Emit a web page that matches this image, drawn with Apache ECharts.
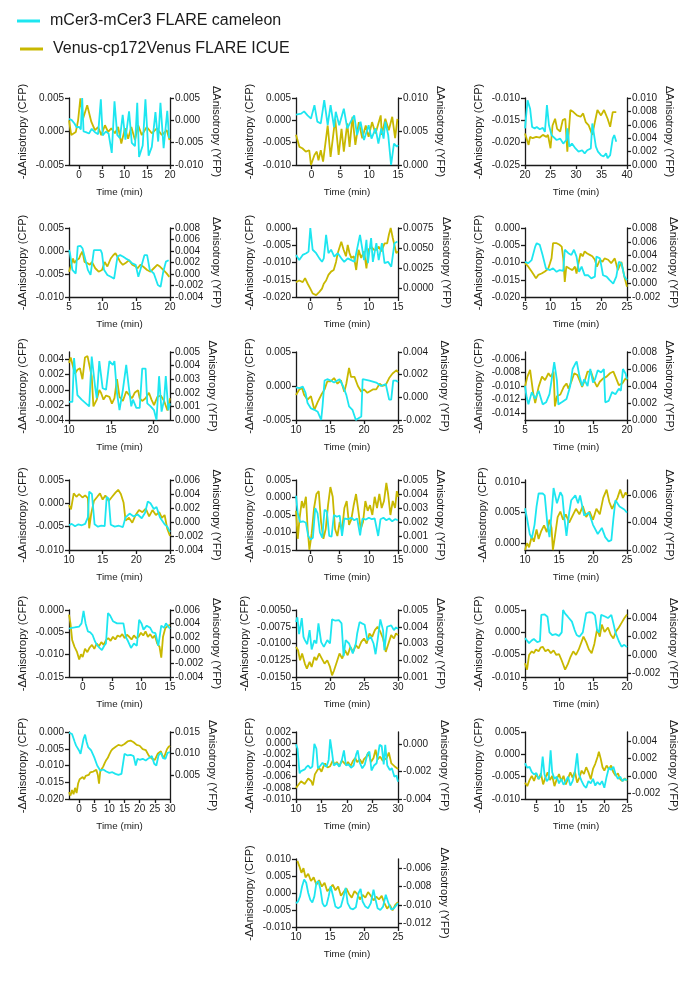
<!DOCTYPE html>
<html><head><meta charset="utf-8">
<script src="https://cdn.jsdelivr.net/npm/echarts@6/dist/echarts.min.js"></script>
<style>html,body{margin:0;padding:0;background:#fff}#c{width:700px;height:1001px}</style>
</head><body><div id="c"></div>
<script>
// ================= DATA (time in min, anisotropy values) =================
const NAME_C = 'mCer3-mCer3 FLARE cameleon';
const NAME_Y = 'Venus-cp172Venus FLARE ICUE';

// Panel 1
const P1_XT=[0,5,10,15,20], P1_LT=[-0.005,0,0.005], P1_RT=[-0.010,-0.005,0,0.005];
const P1_CYAN=[[-2.2,0.0019],[-1.6,0.0017],[-1.0,0.0012],[-0.5,0.0006],[0.0,0.0007],[0.4,0.0003],[0.7,0.0050],[1.0,0.0000],[1.5,-0.0001],[2.2,-0.0003],[2.8,0.0004],[3.5,-0.0001],[4.2,-0.0004],[4.8,0.0048],[5.2,-0.0006],[5.9,0.0000],[6.5,-0.0003],[7.2,-0.0032],[7.8,0.0045],[8.4,-0.0005],[9.0,-0.0010],[9.6,0.0025],[10.2,-0.0012],[11.0,0.0030],[11.6,-0.0017],[12.3,-0.0022],[12.8,0.0043],[13.2,-0.0038],[14.0,-0.0021],[14.6,0.0048],[15.3,-0.0036],[16.0,-0.0023],[16.8,0.0029],[17.4,-0.0015],[17.9,0.0043],[18.6,-0.0025],[19.4,0.0031],[19.8,-0.0010]];
const P1_YELLOW=[[-2.2,0.0000],[-1.7,-0.0033],[-1.3,-0.0037],[-0.7,-0.0026],[-0.2,0.0000],[0.3,0.0049],[0.9,0.0004],[1.8,0.0034],[2.2,0.0030],[2.7,-0.0003],[3.5,-0.0022],[4.2,-0.0015],[4.9,-0.0033],[5.7,-0.0011],[6.4,-0.0026],[7.1,-0.0018],[7.9,-0.0029],[8.6,-0.0015],[9.3,-0.0052],[10.1,-0.0018],[10.8,-0.0041],[11.5,-0.0015],[12.3,-0.0044],[13.0,-0.0011],[13.8,-0.0033],[14.9,-0.0015],[16.0,-0.0029],[17.1,-0.0018],[18.2,-0.0033],[19.3,-0.0022],[19.9,-0.0044]];

// Panel 2
const P2_XT=[0,5,10,15], P2_LT=[-0.010,-0.005,0,0.005], P2_RT=[0,0.005,0.010];
const P2_CYAN=[[-2.7,0.0013],[-1.8,0.0015],[-1.3,0.0020],[-0.7,0.0011],[-0.1,0.0004],[0.2,0.0008],[0.5,0.0034],[1.0,-0.0003],[1.6,-0.0007],[2.2,0.0045],[2.8,-0.0011],[3.3,0.0034],[3.9,-0.0015],[4.2,0.0019],[4.8,-0.0011],[5.6,0.0026],[6.2,-0.0018],[6.8,-0.0003],[7.4,0.0011],[7.9,-0.0033],[8.5,-0.0003],[9.1,-0.0044],[9.9,-0.0011],[10.4,-0.0041],[11.1,-0.0018],[11.6,-0.0052],[12.1,-0.0018],[12.5,-0.0041],[12.8,-0.0003],[13.3,-0.0033],[13.8,-0.0100],[14.3,-0.0052],[14.8,-0.0059],[15.0,-0.0055]];
const P2_YELLOW=[[-2.7,0.0045],[-2.1,0.0027],[-1.6,0.0025],[-1.0,0.0020],[-0.4,0.0022],[-0.1,0.0000],[0.5,0.0015],[0.9,0.0020],[1.2,0.0007],[1.6,0.0022],[2.0,0.0005],[2.8,0.0059],[3.3,0.0012],[4.1,0.0069],[4.7,0.0015],[5.2,0.0054],[5.6,0.0020],[6.2,0.0062],[6.6,0.0027],[7.1,0.0072],[7.6,0.0030],[8.2,0.0064],[8.8,0.0040],[9.4,0.0059],[9.9,0.0042],[10.5,0.0064],[11.1,0.0047],[12.0,0.0074],[12.2,0.0045],[12.8,0.0069],[13.4,0.0052],[14.0,0.0072],[14.5,0.0040],[14.9,0.0069]];

// Panel 3
const P3_XT=[20,25,30,35,40], P3_LT=[-0.025,-0.020,-0.015,-0.010], P3_RT=[0,0.002,0.004,0.006,0.008,0.010];
const P3_CYAN=[[20.0,-0.0168],[20.2,-0.0165],[20.5,-0.0105],[20.7,-0.0101],[21.0,-0.0124],[21.4,-0.0165],[21.9,-0.0168],[22.3,-0.0165],[22.9,-0.0170],[23.5,-0.0167],[23.9,-0.0176],[24.3,-0.0116],[24.7,-0.0161],[25.2,-0.0183],[25.5,-0.0187],[26.2,-0.0194],[26.9,-0.0191],[27.5,-0.0202],[28.1,-0.0194],[28.3,-0.0168],[28.7,-0.0209],[29.2,-0.0202],[29.9,-0.0213],[30.5,-0.0220],[31.2,-0.0217],[31.7,-0.0224],[32.2,-0.0217],[32.9,-0.0213],[33.2,-0.0157],[33.5,-0.0161],[33.9,-0.0209],[34.3,-0.0220],[34.9,-0.0228],[35.4,-0.0231],[35.9,-0.0224],[36.2,-0.0235],[36.7,-0.0228],[37.2,-0.0191],[37.5,-0.0183],[37.9,-0.0198]];
const P3_YELLOW=[[20.0,0.0047],[20.3,0.0045],[20.7,0.0030],[21.0,0.0042],[21.5,0.0040],[22.2,0.0042],[22.9,0.0041],[23.5,0.0045],[24.2,0.0042],[24.5,0.0045],[25.0,0.0025],[25.4,0.0059],[25.9,0.0069],[26.3,0.0054],[26.9,0.0050],[27.4,0.0067],[27.9,0.0069],[28.3,0.0020],[28.9,0.0082],[29.5,0.0079],[30.2,0.0074],[30.9,0.0072],[31.4,0.0077],[31.9,0.0064],[32.5,0.0059],[33.2,0.0045],[33.7,0.0064],[34.2,0.0082],[34.9,0.0074],[35.5,0.0082],[36.2,0.0069],[36.7,0.0057],[37.2,0.0079],[37.9,0.0079]];

// Panel 4
const P4_XT=[5,10,15,20], P4_LT=[-0.010,-0.005,0,0.005], P4_RT=[-0.004,-0.002,0,0.002,0.004,0.006,0.008];
const P4_CYAN=[[5.0,0.0002],[5.15,-0.0005],[5.5,-0.0041],[6.0,-0.0049],[6.1,-0.0045],[6.3,0.0010],[6.7,0.0011],[7.0,0.0006],[7.5,-0.0023],[7.8,-0.0041],[8.2,-0.0052],[8.4,-0.0055],[8.7,0.0002],[9.2,0.0002],[9.4,-0.0001],[9.7,0.0002],[9.9,-0.0005],[10.2,-0.0041],[10.7,-0.0052],[11.2,-0.0056],[11.7,-0.0060],[11.9,-0.0063],[12.2,-0.0012],[12.6,-0.0009],[13.0,-0.0012],[13.4,-0.0016],[13.9,-0.0020],[14.4,-0.0027],[14.9,-0.0030],[15.3,-0.0056],[15.6,-0.0041],[15.8,-0.0045],[16.2,-0.0009],[16.6,-0.0009],[17.0,-0.0041],[17.3,-0.0045],[17.6,-0.0049],[17.8,-0.0052],[18.2,-0.0074],[18.6,-0.0078],[19.0,-0.0045],[19.4,-0.0023],[19.8,-0.0020]];
const P4_YELLOW=[[5.0,0.0004],[5.25,0.0013],[5.6,0.0027],[5.8,0.0019],[6.1,0.0024],[6.5,0.0027],[6.7,0.0033],[7.0,0.0039],[7.3,0.0021],[7.7,0.0019],[8.1,0.0016],[8.4,0.0021],[8.9,0.0010],[9.4,0.0004],[9.9,0.0007],[10.3,0.0021],[10.7,0.0013],[11.2,0.0027],[11.6,0.0033],[11.9,0.0036],[12.2,0.0030],[12.6,0.0021],[13.0,0.0016],[13.4,0.0019],[13.9,0.0024],[14.4,0.0016],[14.9,0.0013],[15.2,0.0010],[15.6,0.0016],[16.0,0.0013],[16.6,0.0007],[17.1,0.0004],[17.6,0.0010],[18.1,0.0016],[18.5,0.0013],[19.0,0.0007],[19.5,0.0001],[19.9,-0.0005]];

// Panel 5
const P5_XT=[0,5,10,15], P5_LT=[-0.020,-0.015,-0.010,-0.005,0], P5_RT=[0,0.0025,0.005,0.0075];
const P5_CYAN=[[-2.45,-0.0078],[-1.9,-0.0093],[-1.3,-0.0078],[-0.7,-0.0073],[-0.3,-0.0068],[0.0,0.0000],[0.4,-0.0063],[1.0,-0.0073],[1.55,-0.0088],[2.0,-0.0098],[2.3,-0.0088],[2.7,-0.0020],[3.1,-0.0073],[3.55,-0.0063],[4.1,-0.0083],[4.7,-0.0073],[5.3,-0.0088],[5.8,-0.0098],[6.4,-0.0088],[7.0,-0.0093],[7.55,-0.0098],[8.5,-0.0020],[8.7,-0.0024],[9.2,-0.0093],[9.6,-0.0034],[9.85,-0.0102],[10.4,-0.0029],[10.7,-0.0098],[11.3,-0.0044],[11.7,-0.0093],[12.25,-0.0044],[12.7,-0.0102],[13.3,-0.0098],[13.85,-0.0112],[14.1,-0.0117],[14.4,-0.0044],[14.9,-0.0039]];
const P5_YELLOW=[[-2.45,0.0008],[-1.9,0.0010],[-1.3,0.0008],[-0.9,0.0013],[-0.45,0.0006],[0.0,0.0000],[0.4,-0.0006],[1.0,-0.0008],[1.55,-0.0004],[2.0,0.0000],[2.3,0.0006],[2.7,0.0010],[3.1,0.0017],[3.55,0.0021],[4.0,0.0023],[4.4,0.0033],[4.7,0.0044],[5.3,0.0058],[5.7,0.0048],[6.1,0.0040],[6.4,0.0054],[6.7,0.0044],[7.0,0.0038],[7.45,0.0040],[7.85,0.0023],[8.25,0.0048],[8.7,0.0038],[9.2,0.0046],[9.6,0.0025],[9.95,0.0048],[10.4,0.0052],[10.9,0.0048],[11.3,0.0048],[11.7,0.0052],[12.15,0.0046],[12.7,0.0056],[13.15,0.0056],[13.45,0.0067],[13.75,0.0075],[14.1,0.0063],[14.7,0.0044],[15.0,0.0046]];

// Panel 6
const P6_XT=[5,10,15,20,25], P6_LT=[-0.020,-0.015,-0.010,-0.005,0], P6_RT=[-0.002,0,0.002,0.004,0.006,0.008];
const P6_CYAN=[[5.0,-0.0098],[5.65,-0.0102],[6.3,-0.0093],[7.0,-0.0054],[7.3,-0.0044],[7.9,-0.0049],[8.45,-0.0078],[9.1,-0.0117],[9.9,-0.0122],[10.5,-0.0117],[11.2,-0.0127],[11.8,-0.0122],[12.5,-0.0124],[12.8,-0.0063],[13.5,-0.0073],[14.1,-0.0078],[14.6,-0.0063],[15.1,-0.0083],[15.6,-0.0127],[16.1,-0.0112],[16.7,-0.0137],[17.4,-0.0137],[18.0,-0.0146],[18.7,-0.0141],[19.0,-0.0083],[19.7,-0.0088],[20.3,-0.0137],[21.0,-0.0141],[21.6,-0.0151],[22.3,-0.0161],[22.9,-0.0141],[23.4,-0.0098],[23.9,-0.0102],[24.5,-0.0141],[25.0,-0.0151]];
const P6_YELLOW=[[5.0,0.0029],[5.65,0.0024],[6.3,0.0017],[6.75,0.0012],[7.15,0.0007],[7.6,0.0012],[8.25,0.0014],[8.9,0.0017],[9.55,0.0021],[9.9,0.0029],[10.2,0.0036],[10.5,0.0058],[11.2,0.0058],[11.7,0.0056],[12.2,0.0053],[12.5,0.0036],[12.8,0.0002],[13.1,0.0024],[13.8,0.0021],[14.3,0.0019],[14.8,0.0024],[15.1,0.0014],[15.4,0.0026],[15.9,0.0043],[16.3,0.0039],[16.7,0.0046],[17.2,0.0043],[17.7,0.0041],[18.2,0.0039],[18.7,0.0034],[19.1,0.0024],[19.7,0.0034],[20.2,0.0031],[20.6,0.0036],[21.3,0.0034],[21.9,0.0029],[22.6,0.0036],[23.2,0.0019],[23.9,0.0031],[24.5,0.0009],[25.0,-0.0005]];

// Panel 7
const P7_XT=[10,15,20], P7_LT=[-0.004,-0.002,0,0.002,0.004], P7_RT=[0,0.001,0.002,0.003,0.004,0.005];
const P7_CYAN=[[10.0,-0.0016],[10.4,-0.0016],[10.6,0.0042],[11.0,-0.0007],[11.5,-0.0013],[12.0,-0.0018],[12.4,-0.0022],[12.7,0.0044],[13.1,0.0004],[13.3,-0.0011],[13.6,0.0038],[14.0,0.0002],[14.4,0.0000],[14.8,0.0038],[15.2,0.0033],[15.4,0.0038],[15.7,-0.0004],[16.0,-0.0027],[16.4,0.0000],[16.8,0.0033],[17.1,0.0004],[17.4,-0.0022],[17.6,-0.0013],[18.0,-0.0024],[18.4,-0.0024],[18.7,0.0028],[19.1,0.0028],[19.3,-0.0018],[19.7,-0.0022],[20.1,-0.0027],[20.4,-0.0040],[20.7,0.0018],[21.0,-0.0029],[21.3,-0.0013],[21.5,0.0018],[21.8,-0.0027],[22.0,-0.0018]];
const P7_YELLOW=[[10.0,0.0042],[10.2,0.0046],[10.4,0.0047],[10.7,0.0034],[11.0,0.0037],[11.3,0.0038],[11.6,0.0030],[11.9,0.0046],[12.2,0.0047],[12.4,0.0046],[12.7,0.0032],[12.9,0.0010],[13.3,0.0015],[13.6,0.0022],[13.8,0.0020],[14.1,0.0015],[14.4,0.0018],[14.8,0.0017],[15.1,0.0012],[15.4,0.0016],[15.7,0.0030],[16.0,0.0017],[16.4,0.0014],[16.8,0.0021],[17.2,0.0018],[17.5,0.0016],[17.8,0.0020],[18.2,0.0022],[18.4,0.0016],[18.7,0.0014],[19.1,0.0016],[19.5,0.0020],[19.8,0.0015],[20.1,0.0011],[20.5,0.0017],[20.9,0.0018],[21.3,0.0014],[21.7,0.0007],[22.0,0.0016]];

// Panel 8
const P8_XT=[10,15,20,25], P8_LT=[-0.005,0,0.005], P8_RT=[-0.002,0,0.002,0.004];
const P8_CYAN=[[10.0,-0.0002],[10.5,-0.0003],[11.0,-0.0001],[11.4,-0.0010],[11.7,-0.0025],[12.2,-0.0033],[12.7,-0.0035],[13.2,-0.0038],[13.7,-0.0050],[13.9,-0.0030],[14.2,0.0008],[14.6,0.0010],[15.1,0.0008],[15.6,0.0005],[16.4,0.0010],[16.9,0.0000],[17.4,-0.0013],[17.8,-0.0030],[18.3,-0.0035],[18.8,-0.0050],[19.6,-0.0045],[19.8,0.0010],[20.8,0.0008],[21.8,0.0005],[22.5,0.0000],[23.2,0.0003],[23.7,-0.0020],[24.0,-0.0020],[24.3,0.0008],[24.7,0.0008],[25.0,0.0006]];
const P8_YELLOW=[[10.0,0.0002],[10.5,0.0007],[10.9,0.0008],[11.2,0.0002],[11.7,-0.0002],[12.2,0.0001],[12.7,-0.0011],[13.2,-0.0004],[13.7,0.0002],[14.2,0.0007],[14.6,0.0014],[15.1,0.0014],[15.6,0.0017],[16.1,0.0012],[16.6,0.0015],[17.1,0.0005],[17.4,0.0012],[17.8,0.0026],[18.1,0.0018],[18.6,0.0018],[19.1,0.0010],[19.6,0.0005],[20.0,0.0007],[20.5,0.0004],[21.3,0.0007],[21.8,0.0007],[22.3,0.0012],[22.7,0.0010],[23.2,0.0011],[23.7,0.0017],[24.2,0.0021],[24.8,0.0024],[25.0,0.0022]];

// Panel 9
const P9_XT=[5,10,15,20], P9_LT=[-0.014,-0.012,-0.010,-0.008,-0.006], P9_RT=[0,0.002,0.004,0.006,0.008];
const P9_CYAN=[[5.0,-0.0100],[5.25,-0.0117],[5.5,-0.0127],[6.0,-0.0109],[6.5,-0.0119],[7.0,-0.0107],[7.6,-0.0127],[8.1,-0.0124],[8.6,-0.0112],[8.9,-0.0092],[9.3,-0.0065],[9.7,-0.0092],[9.9,-0.0127],[10.4,-0.0124],[11.1,-0.0119],[11.65,-0.0100],[12.0,-0.0075],[12.4,-0.0067],[12.6,-0.0064],[13.0,-0.0085],[13.4,-0.0100],[13.7,-0.0090],[14.2,-0.0100],[14.6,-0.0075],[15.0,-0.0095],[15.3,-0.0090],[15.7,-0.0077],[16.2,-0.0080],[16.6,-0.0075],[16.8,-0.0124],[17.3,-0.0122],[17.8,-0.0109],[18.3,-0.0112],[18.8,-0.0104],[19.1,-0.0107],[19.4,-0.0075],[19.8,-0.0082],[20.0,-0.0090]];
const P9_YELLOW=[[5.0,0.0039],[5.35,0.0051],[5.75,0.0059],[6.0,0.0061],[6.2,0.0032],[6.5,0.0020],[7.0,0.0039],[7.5,0.0051],[7.95,0.0047],[8.45,0.0055],[8.8,0.0051],[9.2,0.0057],[9.4,0.0016],[9.7,0.0028],[10.2,0.0030],[10.7,0.0039],[11.1,0.0043],[11.4,0.0037],[11.9,0.0047],[12.25,0.0055],[12.7,0.0053],[13.1,0.0045],[13.4,0.0039],[13.9,0.0049],[14.2,0.0057],[14.7,0.0057],[15.1,0.0047],[15.6,0.0039],[16.0,0.0045],[16.5,0.0049],[17.0,0.0051],[17.5,0.0055],[18.0,0.0057],[18.3,0.0051],[18.8,0.0041],[19.3,0.0043],[19.8,0.0049],[20.0,0.0047]];

// Panel 10
const P10_XT=[10,15,20,25], P10_LT=[-0.010,-0.005,0,0.005], P10_RT=[-0.004,-0.002,0,0.002,0.004,0.006];
const P10_CYAN=[[10.0,-0.0047],[10.4,-0.0044],[10.9,-0.0049],[11.4,-0.0045],[11.9,-0.0047],[12.4,-0.0044],[12.8,-0.0030],[13.0,0.0025],[13.4,0.0020],[13.8,-0.0045],[14.3,-0.0050],[14.8,-0.0048],[15.3,-0.0049],[15.6,0.0014],[15.9,0.0010],[16.2,-0.0046],[16.8,-0.0050],[17.4,-0.0048],[18.0,-0.0051],[18.4,-0.0030],[19.0,-0.0022],[19.6,-0.0028],[20.2,-0.0024],[20.8,-0.0032],[21.3,-0.0020],[21.7,0.0004],[22.1,0.0000],[22.6,-0.0012],[23.0,-0.0008],[23.5,-0.0030],[24.2,-0.0045],[24.6,-0.0050],[25.0,-0.0061]];
const P10_YELLOW=[[10.0,0.0024],[10.3,0.0018],[10.7,0.0041],[11.1,0.0036],[11.5,0.0040],[12.0,0.0035],[12.4,0.0038],[12.8,0.0034],[13.0,-0.0009],[13.3,0.0012],[13.7,0.0030],[14.2,0.0036],[14.6,0.0041],[15.0,0.0032],[15.4,0.0038],[15.9,0.0030],[16.4,0.0036],[16.9,0.0042],[17.3,0.0046],[17.7,0.0040],[18.1,0.0028],[18.4,0.0002],[18.9,0.0006],[19.4,-0.0001],[19.9,0.0010],[20.4,0.0017],[20.9,0.0014],[21.4,0.0019],[21.9,0.0008],[22.4,0.0017],[22.9,0.0010],[23.4,0.0014],[23.8,0.0006],[24.2,0.0010],[24.6,-0.0010],[25.0,-0.0020]];

// Panel 11
const P11_XT=[0,5,10,15], P11_LT=[-0.015,-0.010,-0.005,0,0.005], P11_RT=[0,0.001,0.002,0.003,0.004,0.005];
const P11_CYAN=[[-2.5,0.0005],[-2.2,-0.0045],[-1.8,-0.0070],[-1.3,-0.0068],[-0.8,-0.0072],[-0.4,-0.0110],[0.0,-0.0120],[0.4,-0.0115],[0.8,-0.0030],[1.2,-0.0045],[1.6,-0.0100],[2.0,-0.0115],[2.4,-0.0035],[2.8,-0.0040],[3.2,-0.0110],[3.6,-0.0112],[4.0,-0.0050],[4.5,-0.0055],[5.0,-0.0052],[5.4,-0.0110],[5.8,-0.0060],[6.4,-0.0062],[7.0,-0.0058],[7.5,-0.0065],[8.0,-0.0060],[8.5,-0.0108],[8.9,-0.0060],[9.5,-0.0063],[10.0,-0.0058],[10.5,-0.0062],[11.0,-0.0060],[11.6,-0.0110],[12.0,-0.0062],[12.5,-0.0058],[13.0,-0.0065],[13.5,-0.0060],[14.0,-0.0068],[14.5,-0.0062],[15.0,-0.0065]];
const P11_YELLOW=[[-2.5,0.0028],[-2.2,0.0008],[-1.9,0.0022],[-1.5,0.0035],[-1.2,0.0030],[-0.8,0.0038],[-0.5,0.0015],[-0.2,0.0000],[0.2,0.0012],[0.6,0.0030],[1.0,0.0040],[1.4,0.0042],[1.8,0.0020],[2.2,0.0008],[2.6,0.0015],[3.0,0.0032],[3.4,0.0045],[3.8,0.0038],[4.2,0.0015],[4.6,0.0010],[5.0,0.0020],[5.4,0.0014],[5.8,0.0030],[6.2,0.0035],[6.6,0.0018],[7.0,0.0022],[7.4,0.0032],[7.8,0.0040],[8.2,0.0028],[8.6,0.0015],[9.0,0.0020],[9.4,0.0035],[9.8,0.0028],[10.2,0.0032],[10.6,0.0025],[11.0,0.0038],[11.4,0.0030],[11.8,0.0040],[12.2,0.0030],[12.6,0.0035],[13.0,0.0048],[13.3,0.0040],[13.7,0.0025],[14.1,0.0035],[14.5,0.0030],[14.8,0.0042],[15.0,0.0038]];

// Panel 12
const P12_XT=[10,15,20,25], P12_LT=[0,0.005,0.010], P12_RT=[0.002,0.004,0.006];
const P12_CYAN=[[10.0,0.0057],[10.3,0.0040],[10.7,0.0015],[11.0,0.0008],[11.4,0.0030],[11.7,0.0060],[12.0,0.0081],[12.6,0.0081],[12.9,0.0078],[13.3,0.0030],[13.6,0.0010],[14.0,0.0060],[14.2,0.0090],[14.7,0.0065],[15.2,0.0083],[15.5,0.0077],[15.8,0.0040],[16.1,0.0012],[16.5,0.0050],[16.8,0.0070],[17.4,0.0078],[17.8,0.0065],[18.1,0.0078],[18.7,0.0045],[19.4,0.0050],[20.0,0.0030],[20.7,0.0015],[21.3,0.0025],[21.8,0.0010],[22.3,0.0003],[22.7,0.0005],[23.0,0.0040],[23.3,0.0070],[23.9,0.0060],[24.6,0.0055],[25.0,0.0050]];
const P12_YELLOW=[[10.0,0.0020],[10.3,0.0025],[10.6,0.0022],[11.0,0.0030],[11.3,0.0026],[11.7,0.0035],[12.0,0.0028],[12.4,0.0034],[12.8,0.0038],[13.2,0.0033],[13.6,0.0042],[13.9,0.0036],[14.1,0.0020],[14.4,0.0030],[14.8,0.0044],[15.2,0.0048],[15.6,0.0042],[16.0,0.0046],[16.5,0.0040],[17.0,0.0045],[17.5,0.0050],[18.0,0.0046],[18.5,0.0052],[19.0,0.0044],[19.5,0.0048],[20.0,0.0042],[20.5,0.0050],[21.0,0.0046],[21.5,0.0058],[22.0,0.0064],[22.4,0.0055],[22.8,0.0050],[23.2,0.0054],[23.6,0.0058],[24.0,0.0064],[24.4,0.0058],[24.8,0.0062],[25.0,0.0060]];

// Panel 13
const P13_XT=[0,5,10,15], P13_LT=[-0.015,-0.010,-0.005,0], P13_RT=[-0.004,-0.002,0,0.002,0.004,0.006];
const P13_CYAN=[[-2.35,-0.0042],[-1.9,-0.0040],[-1.4,-0.0039],[-0.6,-0.0037],[-0.2,-0.0030],[0.15,-0.0002],[0.5,-0.0030],[0.9,-0.0048],[1.3,-0.0050],[1.7,-0.0056],[2.1,-0.0070],[2.45,-0.0078],[2.9,-0.0085],[3.3,-0.0090],[3.7,-0.0080],[4.0,-0.0075],[4.35,-0.0007],[4.7,-0.0012],[5.2,-0.0025],[5.9,-0.0030],[6.5,-0.0030],[7.0,-0.0030],[7.4,-0.0060],[7.8,-0.0070],[8.3,-0.0085],[8.8,-0.0075],[9.3,-0.0080],[9.7,-0.0022],[10.1,-0.0030],[10.45,-0.0044],[11.0,-0.0035],[11.6,-0.0040],[12.0,-0.0050],[12.5,-0.0052],[13.0,-0.0080],[13.5,-0.0035],[14.0,-0.0040],[14.3,-0.0030],[14.6,-0.0033],[15.0,-0.0042]];
const P13_YELLOW=[[-2.35,0.0053],[-2.1,0.0040],[-1.8,0.0015],[-1.4,0.0005],[-1.0,-0.0002],[-0.6,-0.0014],[-0.3,-0.0006],[0.0,-0.0010],[0.4,0.0002],[0.8,-0.0003],[1.2,0.0004],[1.6,0.0008],[2.0,0.0002],[2.4,0.0010],[2.8,0.0006],[3.2,0.0012],[3.6,0.0008],[4.0,0.0015],[4.4,0.0018],[4.8,0.0014],[5.2,0.0020],[5.6,0.0016],[6.0,0.0022],[6.4,0.0020],[6.8,0.0024],[7.2,0.0018],[7.6,0.0023],[8.0,0.0020],[8.4,0.0016],[8.8,0.0022],[9.2,0.0018],[9.6,0.0020],[10.0,0.0026],[10.4,0.0022],[10.8,0.0028],[11.2,0.0020],[11.6,0.0024],[12.0,0.0018],[12.4,0.0022],[12.8,0.0010],[13.2,0.0005],[13.5,-0.0011],[13.8,0.0020],[14.2,0.0033],[14.6,0.0036],[15.0,0.0038]];

// Panel 14
const P14_XT=[15,20,25,30], P14_LT=[-0.015,-0.0125,-0.010,-0.0075,-0.005], P14_RT=[0.001,0.002,0.003,0.004,0.005];
const P14_CYAN=[[15.0,-0.0068],[15.2,-0.0061],[15.45,-0.0086],[15.85,-0.0062],[16.1,-0.0090],[16.3,-0.0095],[16.65,-0.0101],[17.0,-0.0080],[17.3,-0.0109],[17.7,-0.0095],[18.0,-0.0100],[18.3,-0.0070],[18.7,-0.0098],[19.1,-0.0105],[19.6,-0.0095],[20.0,-0.0100],[20.3,-0.0064],[20.8,-0.0066],[21.3,-0.0065],[21.7,-0.0070],[22.0,-0.0119],[22.3,-0.0095],[22.8,-0.0100],[23.35,-0.0115],[23.8,-0.0100],[24.0,-0.0085],[24.35,-0.0068],[24.7,-0.0070],[25.1,-0.0072],[25.5,-0.0095],[26.0,-0.0090],[26.4,-0.0100],[26.7,-0.0116],[27.0,-0.0095],[27.4,-0.0064],[27.8,-0.0080],[28.0,-0.0110],[28.4,-0.0075],[29.0,-0.0073],[29.4,-0.0080],[29.7,-0.0076],[30.0,-0.0078]];
const P14_YELLOW=[[15.0,0.0028],[15.3,0.0026],[15.6,0.0020],[15.9,0.0024],[16.3,0.0018],[16.6,0.0015],[17.0,0.0019],[17.3,0.0016],[17.7,0.0022],[18.0,0.0020],[18.4,0.0024],[18.8,0.0021],[19.2,0.0018],[19.6,0.0020],[20.0,0.0016],[20.3,0.0011],[20.6,0.0014],[21.0,0.0019],[21.4,0.0024],[21.8,0.0021],[22.2,0.0026],[22.6,0.0023],[23.0,0.0028],[23.4,0.0025],[23.8,0.0029],[24.2,0.0027],[24.6,0.0031],[25.0,0.0033],[25.4,0.0030],[25.8,0.0036],[26.2,0.0034],[26.6,0.0038],[27.0,0.0040],[27.4,0.0037],[27.8,0.0033],[28.2,0.0025],[28.6,0.0030],[29.0,0.0035],[29.4,0.0033],[29.7,0.0036],[30.0,0.0035]];

// Panel 15
const P15_XT=[5,10,15,20], P15_LT=[-0.010,-0.005,0,0.005], P15_RT=[-0.002,0,0.002,0.004];
const P15_CYAN=[[5.0,-0.0013],[5.6,-0.0024],[6.0,-0.0018],[6.3,-0.0015],[6.8,-0.0022],[7.2,-0.0020],[7.4,0.0039],[7.9,0.0040],[8.3,0.0035],[8.6,0.0000],[9.0,-0.0006],[9.5,-0.0004],[10.0,-0.0008],[10.4,0.0000],[10.6,0.0050],[10.9,0.0042],[11.3,0.0035],[11.9,0.0024],[12.3,0.0005],[12.6,-0.0006],[13.0,-0.0010],[13.5,0.0000],[14.0,0.0043],[14.4,0.0045],[14.9,0.0044],[15.3,0.0038],[15.6,0.0005],[15.9,0.0000],[16.2,0.0039],[16.7,0.0036],[17.2,0.0032],[17.7,0.0039],[18.0,0.0020],[18.3,0.0000],[18.8,-0.0020],[19.2,-0.0032],[19.6,-0.0028],[20.0,-0.0033]];
const P15_YELLOW=[[5.0,-0.0009],[5.3,-0.0016],[5.6,0.0000],[6.0,0.0004],[6.3,0.0002],[6.6,0.0006],[7.0,0.0004],[7.3,0.0008],[7.6,0.0009],[8.0,0.0004],[8.4,0.0006],[8.8,0.0002],[9.2,0.0005],[9.6,0.0000],[10.0,0.0001],[10.4,-0.0006],[10.9,-0.0016],[11.3,-0.0010],[11.7,-0.0002],[12.1,0.0004],[12.5,0.0000],[12.9,0.0006],[13.2,0.0012],[13.6,0.0020],[14.0,0.0014],[14.4,0.0006],[14.8,0.0002],[15.2,0.0012],[15.6,0.0028],[16.0,0.0020],[16.3,0.0033],[16.7,0.0025],[17.2,0.0030],[17.6,0.0022],[18.0,0.0018],[18.4,0.0026],[18.8,0.0030],[19.2,0.0035],[19.6,0.0040],[20.0,0.0044]];

// Panel 16
const P16_XT=[0,5,10,15,20,25,30], P16_LT=[-0.020,-0.015,-0.010,-0.005,0], P16_RT=[0.005,0.010,0.015];
const P16_CYAN=[[-3.3,-0.0002],[-2.8,-0.0003],[-2.3,-0.0006],[-1.8,-0.0004],[-1.4,-0.0030],[-1.0,-0.0040],[-0.5,-0.0045],[0.0,-0.0055],[0.5,-0.0065],[1.0,-0.0070],[1.5,-0.0020],[2.0,-0.0008],[2.5,-0.0030],[3.0,-0.0045],[3.5,-0.0040],[4.0,-0.0055],[5.0,-0.0075],[6.0,-0.0100],[7.0,-0.0115],[8.0,-0.0112],[9.0,-0.0118],[10.0,-0.0122],[11.0,-0.0120],[12.0,-0.0125],[13.0,-0.0128],[14.0,-0.0125],[14.5,-0.0120],[15.0,-0.0065],[16.0,-0.0070],[17.0,-0.0068],[18.0,-0.0072],[18.7,-0.0100],[19.3,-0.0080],[20.0,-0.0083],[21.0,-0.0080],[22.0,-0.0085],[23.0,-0.0078],[24.0,-0.0072],[24.8,-0.0095],[25.5,-0.0100],[26.2,-0.0070],[27.0,-0.0062],[27.7,-0.0078],[28.5,-0.0080],[29.2,-0.0062],[30.0,-0.0060]];
const P16_YELLOW=[[-3.3,0.0010],[-2.8,0.0002],[-2.3,0.0015],[-1.8,0.0005],[-1.3,0.0020],[-0.8,0.0008],[-0.3,0.0030],[0.2,0.0040],[0.7,0.0036],[1.2,0.0045],[1.7,0.0040],[2.2,0.0048],[2.7,0.0052],[3.2,0.0050],[3.7,0.0056],[4.2,0.0053],[4.7,0.0058],[5.2,0.0055],[5.7,0.0062],[6.2,0.0050],[6.6,0.0030],[7.0,0.0058],[7.5,0.0062],[8.0,0.0070],[8.5,0.0078],[9.0,0.0085],[9.5,0.0090],[10.0,0.0098],[10.5,0.0105],[11.0,0.0110],[12.0,0.0115],[13.0,0.0120],[14.0,0.0118],[15.0,0.0122],[16.0,0.0128],[17.0,0.0130],[18.0,0.0126],[19.0,0.0120],[20.0,0.0118],[21.0,0.0110],[22.0,0.0108],[23.0,0.0095],[24.0,0.0088],[25.0,0.0085],[26.0,0.0100],[27.0,0.0105],[27.5,0.0095],[28.0,0.0090],[29.0,0.0110],[29.5,0.0115],[30.0,0.0118]];

// Panel 17
const P17_XT=[10,15,20,25,30], P17_LT=[-0.010,-0.008,-0.006,-0.004,-0.002,0,0.002], P17_RT=[-0.004,-0.002,0];
const P17_CYAN=[[10.0,-0.0002],[10.3,-0.0010],[10.7,-0.0054],[11.0,-0.0050],[11.3,-0.0051],[11.7,-0.0047],[12.0,-0.0043],[12.4,-0.0040],[12.8,-0.0045],[13.2,-0.0042],[13.6,-0.0001],[14.0,-0.0010],[14.3,-0.0045],[14.8,-0.0040],[15.2,-0.0035],[15.6,-0.0040],[16.0,-0.0042],[16.4,-0.0030],[16.7,0.0007],[17.0,-0.0012],[17.4,-0.0040],[18.0,-0.0036],[18.5,-0.0042],[19.0,-0.0030],[19.4,-0.0013],[19.8,-0.0040],[20.3,-0.0038],[20.8,-0.0044],[21.3,-0.0040],[21.8,-0.0020],[22.1,-0.0013],[22.5,-0.0035],[23.0,-0.0045],[23.5,-0.0038],[24.0,-0.0020],[24.4,-0.0015],[24.8,-0.0049],[25.3,-0.0040],[25.8,-0.0036],[26.4,-0.0003],[26.8,-0.0005],[27.2,-0.0038],[27.5,-0.0003],[27.9,-0.0040],[28.4,-0.0048],[28.8,-0.0045],[29.3,-0.0060],[29.7,-0.0058],[30.0,-0.0069]];
const P17_YELLOW=[[10.0,-0.0032],[10.4,-0.0030],[10.7,-0.0030],[11.0,-0.0027],[11.3,-0.0026],[11.7,-0.0029],[12.0,-0.0028],[12.4,-0.0025],[12.7,-0.0024],[13.0,-0.0027],[13.3,-0.0030],[13.7,-0.0022],[14.0,-0.0023],[14.5,-0.0017],[15.0,-0.0020],[15.4,-0.0016],[15.7,-0.0014],[16.2,-0.0017],[16.7,-0.0016],[17.2,-0.0012],[17.6,-0.0015],[18.0,-0.0013],[18.5,-0.0016],[19.0,-0.0012],[19.3,-0.0011],[19.8,-0.0015],[20.2,-0.0013],[20.7,-0.0016],[21.2,-0.0012],[21.6,-0.0010],[22.0,-0.0013],[22.5,-0.0011],[23.0,-0.0014],[23.3,-0.0011],[23.8,-0.0009],[24.2,-0.0006],[24.7,-0.0013],[25.2,-0.0010],[25.6,-0.0004],[26.0,-0.0011],[26.5,-0.0009],[27.0,-0.0012],[27.3,-0.0013],[27.8,-0.0010],[28.2,-0.0006],[28.7,-0.0014],[29.3,-0.0016],[30.0,-0.0018]];

// Panel 18
const P18_XT=[5,10,15,20,25], P18_LT=[-0.010,-0.005,0,0.005], P18_RT=[-0.002,0,0.002,0.004];
const P18_CYAN=[[2.5,-0.0020],[3.0,-0.0030],[3.5,-0.0028],[4.0,-0.0040],[4.5,-0.0045],[5.0,-0.0042],[5.5,-0.0055],[6.0,-0.0048],[6.4,-0.0005],[6.8,-0.0045],[7.3,-0.0060],[7.7,-0.0055],[8.15,0.0009],[8.5,-0.0040],[9.0,-0.0055],[9.5,-0.0050],[10.0,-0.0065],[10.5,-0.0055],[11.0,-0.0068],[11.5,-0.0060],[12.0,-0.0050],[12.5,-0.0070],[13.0,-0.0060],[13.5,-0.0040],[14.0,0.0002],[14.4,-0.0045],[15.0,-0.0060],[15.5,-0.0070],[16.0,-0.0075],[16.5,-0.0060],[17.0,-0.0065],[17.5,-0.0055],[18.0,-0.0070],[18.5,-0.0062],[19.0,-0.0068],[19.5,-0.0060],[20.0,-0.0075],[20.5,-0.0050],[21.0,-0.0030],[21.5,-0.0035],[22.0,-0.0028],[22.5,-0.0045],[23.0,-0.0055],[23.5,-0.0050],[24.0,-0.0060],[24.5,-0.0055],[25.0,-0.0058]];
const P18_YELLOW=[[2.5,-0.0008],[3.0,-0.0012],[3.5,-0.0005],[4.0,0.0000],[4.5,-0.0006],[5.0,0.0002],[5.5,-0.0004],[6.0,0.0003],[6.5,-0.0010],[7.0,-0.0002],[7.5,0.0004],[8.0,-0.0005],[8.5,0.0000],[9.0,-0.0012],[9.5,-0.0004],[10.0,0.0002],[10.5,-0.0006],[11.0,0.0000],[11.5,-0.0010],[12.0,-0.0003],[12.5,0.0004],[13.0,-0.0002],[13.5,0.0005],[14.0,-0.0008],[14.5,-0.0002],[15.0,0.0006],[15.5,0.0002],[16.0,0.0010],[16.5,0.0004],[17.0,-0.0004],[17.5,0.0008],[18.0,0.0014],[18.5,0.0022],[18.8,0.0028],[19.2,0.0020],[19.6,0.0010],[20.0,0.0006],[20.5,0.0012],[21.0,0.0008],[21.5,0.0012],[22.0,0.0004],[22.5,0.0000],[23.0,0.0003],[23.5,-0.0004],[24.0,-0.0006],[24.5,-0.0003],[25.0,-0.0006]];

// Panel 19
const P19_XT=[10,15,20,25], P19_LT=[-0.010,-0.005,0,0.005,0.010], P19_RT=[-0.012,-0.010,-0.008,-0.006];
const P19_CYAN=[[10.0,-0.0030],[10.3,-0.0025],[10.6,-0.0010],[10.9,0.0020],[11.2,0.0040],[11.5,0.0030],[11.8,0.0000],[12.1,-0.0020],[12.4,-0.0028],[12.7,-0.0010],[13.0,0.0030],[13.3,0.0035],[13.6,0.0010],[13.9,-0.0030],[14.2,-0.0040],[14.5,-0.0035],[14.8,-0.0010],[15.1,0.0020],[15.4,-0.0005],[15.8,-0.0040],[16.2,-0.0045],[16.6,-0.0040],[17.0,-0.0010],[17.3,0.0015],[17.6,-0.0030],[18.0,-0.0045],[18.4,-0.0048],[18.8,-0.0042],[19.2,0.0000],[19.5,0.0012],[19.8,-0.0025],[20.2,-0.0040],[20.6,-0.0045],[21.0,-0.0030],[21.4,0.0010],[21.7,-0.0020],[22.0,-0.0045],[22.4,-0.0050],[22.8,-0.0040],[23.2,-0.0005],[23.6,-0.0030],[24.0,-0.0048],[24.4,-0.0045],[24.8,-0.0035],[25.0,-0.0030]];
const P19_YELLOW=[[10.2,-0.0052],[10.5,-0.0058],[10.8,-0.0065],[11.1,-0.0060],[11.4,-0.0070],[11.8,-0.0066],[12.2,-0.0074],[12.6,-0.0070],[13.0,-0.0078],[13.4,-0.0073],[13.8,-0.0080],[14.2,-0.0076],[14.6,-0.0085],[15.0,-0.0082],[15.4,-0.0078],[15.8,-0.0084],[16.2,-0.0080],[16.6,-0.0090],[17.0,-0.0086],[17.4,-0.0082],[17.8,-0.0088],[18.2,-0.0092],[18.6,-0.0085],[19.0,-0.0088],[19.4,-0.0094],[19.8,-0.0089],[20.2,-0.0092],[20.6,-0.0086],[21.0,-0.0090],[21.4,-0.0095],[21.8,-0.0091],[22.2,-0.0094],[22.6,-0.0090],[23.0,-0.0098],[23.4,-0.0104],[23.8,-0.0100],[24.2,-0.0106],[24.6,-0.0100],[25.0,-0.0097]];

// ================= LAYOUT =================
const ROW_TOP=[98,228,352,480,610,732,859];
const ROW_BOTTOM=[165,297,420,550,677,799,927];
const COL_LEFT=[69,296,525];
const COL_RIGHT=[170,398,627];

const PANELS=[
 {r:0,c:0,cy:P1_CYAN,ye:P1_YELLOW,x:[-2.2,20],xt:P1_XT,l:[-0.005,0.005],lt:P1_LT,ld:3,rr:[-0.010,0.005],rt:P1_RT,rd:3},
 {r:0,c:1,cy:P2_CYAN,ye:P2_YELLOW,x:[-2.7,15],xt:P2_XT,l:[-0.010,0.005],lt:P2_LT,ld:3,rr:[0,0.010],rt:P2_RT,rd:3},
 {r:0,c:2,cy:P3_CYAN,ye:P3_YELLOW,x:[20,40],xt:P3_XT,l:[-0.025,-0.010],lt:P3_LT,ld:3,rr:[0,0.010],rt:P3_RT,rd:3},
 {r:1,c:0,cy:P4_CYAN,ye:P4_YELLOW,x:[5,20],xt:P4_XT,l:[-0.010,0.005],lt:P4_LT,ld:3,rr:[-0.004,0.008],rt:P4_RT,rd:3},
 {r:1,c:1,cy:P5_CYAN,ye:P5_YELLOW,x:[-2.45,15],xt:P5_XT,l:[-0.020,0],lt:P5_LT,ld:3,rr:[-0.00104,0.0075],rt:P5_RT,rd:4},
 {r:1,c:2,cy:P6_CYAN,ye:P6_YELLOW,x:[5,25],xt:P6_XT,l:[-0.020,0],lt:P6_LT,ld:3,rr:[-0.002,0.008],rt:P6_RT,rd:3},
 {r:2,c:0,cy:P7_CYAN,ye:P7_YELLOW,x:[10,22],xt:P7_XT,l:[-0.004,0.005],lt:P7_LT,ld:3,rr:[0,0.005],rt:P7_RT,rd:3},
 {r:2,c:1,cy:P8_CYAN,ye:P8_YELLOW,x:[10,25],xt:P8_XT,l:[-0.005,0.005],lt:P8_LT,ld:3,rr:[-0.002,0.004],rt:P8_RT,rd:3},
 {r:2,c:2,cy:P9_CYAN,ye:P9_YELLOW,x:[5,20],xt:P9_XT,l:[-0.015,-0.005],lt:P9_LT,ld:3,rr:[0,0.008],rt:P9_RT,rd:3},
 {r:3,c:0,cy:P10_CYAN,ye:P10_YELLOW,x:[10,25],xt:P10_XT,l:[-0.010,0.005],lt:P10_LT,ld:3,rr:[-0.004,0.006],rt:P10_RT,rd:3},
 {r:3,c:1,cy:P11_CYAN,ye:P11_YELLOW,x:[-2.5,15],xt:P11_XT,l:[-0.015,0.005],lt:P11_LT,ld:3,rr:[0,0.005],rt:P11_RT,rd:3},
 {r:3,c:2,cy:P12_CYAN,ye:P12_YELLOW,x:[10,25],xt:P12_XT,l:[-0.0011,0.0103],lt:P12_LT,ld:3,rr:[0.002,0.0071],rt:P12_RT,rd:3},
 {r:4,c:0,cy:P13_CYAN,ye:P13_YELLOW,x:[-2.35,15],xt:P13_XT,l:[-0.015,0],lt:P13_LT,ld:3,rr:[-0.004,0.006],rt:P13_RT,rd:3},
 {r:4,c:1,cy:P14_CYAN,ye:P14_YELLOW,x:[15,30],xt:P14_XT,l:[-0.015,-0.005],lt:P14_LT,ld:4,rr:[0.001,0.005],rt:P14_RT,rd:3},
 {r:4,c:2,cy:P15_CYAN,ye:P15_YELLOW,x:[5,20],xt:P15_XT,l:[-0.010,0.005],lt:P15_LT,ld:3,rr:[-0.0024,0.0049],rt:P15_RT,rd:3},
 {r:5,c:0,cy:P16_CYAN,ye:P16_YELLOW,x:[-3.3,30],xt:P16_XT,l:[-0.020,0],lt:P16_LT,ld:3,rr:[-0.0006,0.015],rt:P16_RT,rd:3},
 {r:5,c:1,cy:P17_CYAN,ye:P17_YELLOW,x:[10,30],xt:P17_XT,l:[-0.010,0.002],lt:P17_LT,ld:3,rr:[-0.004,0.0009],rt:P17_RT,rd:3},
 {r:5,c:2,cy:P18_CYAN,ye:P18_YELLOW,x:[2.5,25],xt:P18_XT,l:[-0.010,0.005],lt:P18_LT,ld:3,rr:[-0.0027,0.0051],rt:P18_RT,rd:3},
 {r:6,c:1,cy:P19_CYAN,ye:P19_YELLOW,x:[10,25],xt:P19_XT,l:[-0.010,0.010],lt:P19_LT,ld:3,rr:[-0.0124,-0.005],rt:P19_RT,rd:3}
];

// ================= STYLE =================
const FONT='"Liberation Sans", Arial, Helvetica, sans-serif';
const CYAN='#1DE6F0', YELLOW='#C8B800', AXC='#1a1a1a', TXT='#1a1a1a';
const TICK_FS=10, NAME_FS=11, XNAME_FS=9.8;
const ctx=document.createElement('canvas').getContext('2d');
function tw(s,fs){ctx.font=fs+'px '+FONT;return ctx.measureText(s).width;}
function fmt(d){return function(v){let s=Number(v).toFixed(d); if(/^-0\.0+$/.test(s)) s=s.slice(1); return s;};}

const grid=[], xAxis=[], yAxis=[], series=[];
PANELS.forEach((p,i)=>{
  grid.push({left:COL_LEFT[p.c], top:ROW_TOP[p.r], width:COL_RIGHT[p.c]-COL_LEFT[p.c], height:ROW_BOTTOM[p.r]-ROW_TOP[p.r], containLabel:false});
  const line={show:true,onZero:false,lineStyle:{color:AXC,width:1.3}};
  const tick={show:true,length:4,inside:false,lineStyle:{color:AXC,width:1.3}};
  xAxis.push({type:'value',gridIndex:i,min:p.x[0],max:p.x[1],
    axisLine:line, axisTick:Object.assign({customValues:p.xt},tick),
    axisLabel:{customValues:p.xt,fontSize:TICK_FS,color:TXT,fontFamily:FONT,margin:5,formatter:v=>String(v)},
    splitLine:{show:false}, name:'Time (min)', nameLocation:'middle', nameGap:22, nameMoveOverlap:false,
    nameTextStyle:{fontSize:XNAME_FS,color:TXT,fontFamily:FONT}});
  [['left',p.l,p.lt,p.ld,'-ΔAnisotropy (CFP)',90],['right',p.rr,p.rt,p.rd,'ΔAnisotropy (YFP)',-90]].forEach(a=>{
    const f=fmt(a[3]);
    const w=Math.max(...a[2].map(v=>tw(f(v),TICK_FS)));
    yAxis.push({type:'value',gridIndex:i,position:a[0],min:a[1][0],max:a[1][1],
      axisLine:line, axisTick:Object.assign({customValues:a[2]},tick),
      axisLabel:{customValues:a[2],formatter:f,fontSize:TICK_FS,color:TXT,fontFamily:FONT,margin:5},
      splitLine:{show:false}, name:a[4], nameLocation:'middle', nameRotate:a[5], nameGap:5+w+7, nameMoveOverlap:false,
      nameTextStyle:{fontSize:NAME_FS,color:TXT,fontFamily:FONT}});
  });
  series.push({type:'line',name:NAME_Y,xAxisIndex:i,yAxisIndex:2*i+1,data:p.ye,showSymbol:false,symbol:'none',
    lineStyle:{color:YELLOW,width:1.8},itemStyle:{color:YELLOW},clip:true,z:2});
  series.push({type:'line',name:NAME_C,xAxisIndex:i,yAxisIndex:2*i,data:p.cy,showSymbol:false,symbol:'none',
    lineStyle:{color:CYAN,width:1.8},itemStyle:{color:CYAN},clip:true,z:3});
});

const legStyle={icon:'rect',itemWidth:23,itemHeight:3,padding:0,selectedMode:false,
  textStyle:{fontSize:16,color:TXT,fontFamily:FONT,lineHeight:20,padding:[0,0,0,5]}};
const chart=echarts.init(document.getElementById('c'),null,{renderer:'canvas'});
chart.setOption({
  animation:false, backgroundColor:'#fff',
  legend:[Object.assign({data:[NAME_C],left:17,top:11},legStyle),Object.assign({data:[NAME_Y],left:20,top:39},legStyle)],
  grid, xAxis, yAxis, series
});
</script></body></html>
